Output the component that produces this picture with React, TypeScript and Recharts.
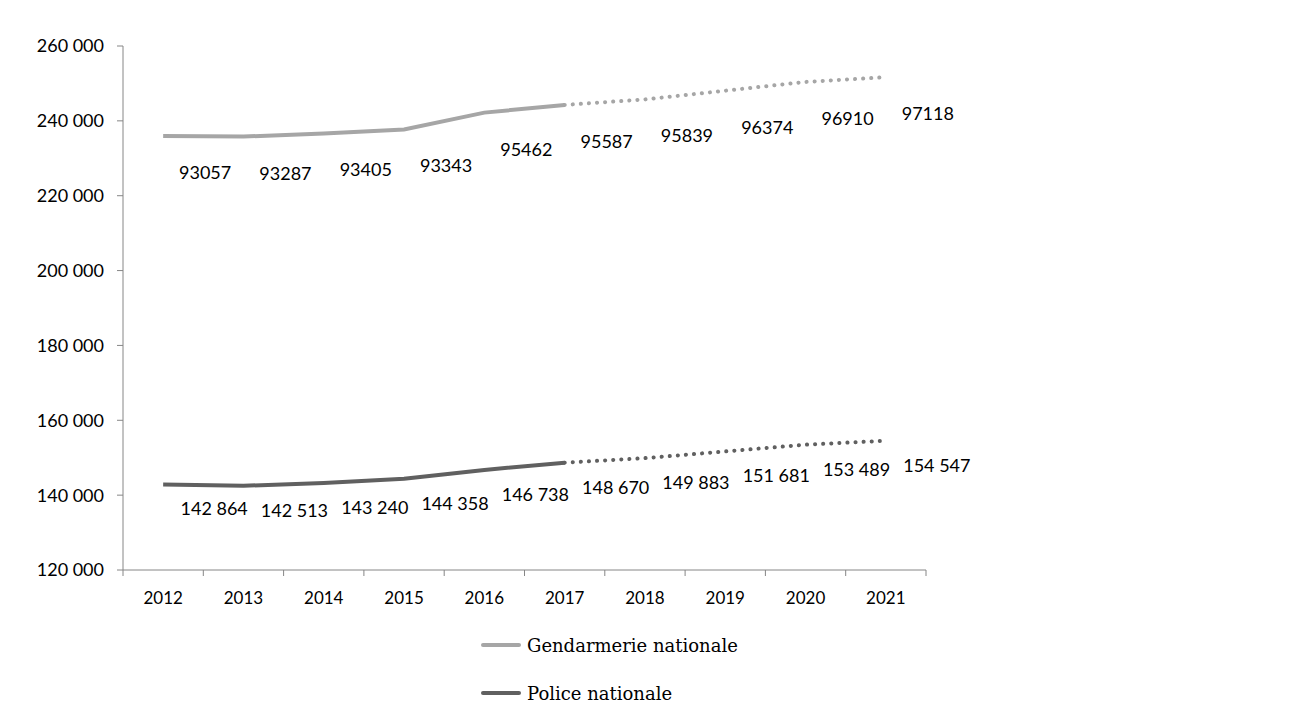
import React from "react";
import { LineChart, Line, XAxis, YAxis, Legend, LabelList } from "recharts";

const years = ["2012", "2013", "2014", "2015", "2016", "2017", "2018", "2019", "2020", "2021"];
const police = [142864, 142513, 143240, 144358, 146738, 148670, 149883, 151681, 153489, 154547];
const gendarmerie = [93057, 93287, 93405, 93343, 95462, 95587, 95839, 96374, 96910, 97118];
const lastActualIndex = 5; // 2017: solid up to here, dotted afterwards
const yTicks = [120000, 140000, 160000, 180000, 200000, 220000, 240000, 260000];

const GEND_COLOR = "#A6A6A6";
const POLICE_COLOR = "#606060";
const AXIS_COLOR = "#868686";
const SANS = "Lato, 'Noto Sans', sans-serif";
const SERIF = "'DejaVu Serif', serif";

const PLOT_LEFT = 123;
const PLOT_RIGHT = 926;
const HALF_BAND = (PLOT_RIGHT - PLOT_LEFT) / years.length / 2;
const X_TICK_MARGIN = 22;

const legendItems = [
  { name: "Gendarmerie nationale", color: GEND_COLOR },
  { name: "Police nationale", color: POLICE_COLOR },
];

const data = years.map((year, i) => {
  const total = police[i] + gendarmerie[i];
  const actual = i <= lastActualIndex;
  const forecast = i >= lastActualIndex;
  return {
    year,
    gend: gendarmerie[i],
    pol: police[i],
    gendTotal: total,
    gendSolid: actual ? total : null,
    gendDotted: forecast ? total : null,
    polSolid: actual ? police[i] : null,
    polDotted: forecast ? police[i] : null,
  };
});

const fmt = (v: number) => {
  const s = String(Math.round(v));
  return s.replace(/\B(?=(\d{3})+(?!\d))/g, " ");
};

const makeLabel = (dx: number, dy: number, spaced: boolean) => (props: any) => {
  const { x, y, value } = props;
  if (value == null || x == null || y == null) return null;
  return (
    <text
      x={x + dx}
      y={y + dy}
      textAnchor="middle"
      dominantBaseline="central"
      fontFamily={SANS}
      fontSize={18}
      fill="#000"
    >
      {spaced ? fmt(value) : String(value)}
    </text>
  );
};

const YearTick = (props: any) => {
  const { x, y, payload, index, visibleTicksCount } = props;
  const axisY = y - X_TICK_MARGIN;
  const isLast = index === visibleTicksCount - 1;
  return (
    <g>
      <line x1={x - HALF_BAND} x2={x - HALF_BAND} y1={axisY} y2={axisY + 6} stroke={AXIS_COLOR} />
      {isLast && (
        <line x1={x + HALF_BAND} x2={x + HALF_BAND} y1={axisY} y2={axisY + 6} stroke={AXIS_COLOR} />
      )}
      <text
        x={x}
        y={y}
        dy="0.71em"
        textAnchor="middle"
        fontFamily={SANS}
        fontSize={17}
        fill="#000"
      >
        {payload.value}
      </text>
    </g>
  );
};

const LegendContent = () => (
  <div style={{ height: 100, width: 1298, position: "relative" }}>
    {legendItems.map((item, i) => (
      <div
        key={item.name}
        style={{
          position: "absolute",
          left: 481,
          top: 27 + i * 48 - 12,
          height: 24,
          display: "flex",
          alignItems: "center",
          fontFamily: SERIF,
          fontSize: 18,
          color: "#000",
          whiteSpace: "nowrap",
        }}
      >
        <span
          style={{
            display: "inline-block",
            width: 40,
            height: 4,
            borderRadius: 2,
            background: item.color,
            marginRight: 6,
          }}
        />
        {item.name}
      </div>
    ))}
  </div>
);

export default function App() {
  return (
    <div style={{ position: "absolute", left: 0, top: 0, width: 1298, height: 718, background: "#fff" }}>
      <LineChart
        width={1298}
        height={718}
        data={data}
        margin={{ top: 46, right: 1298 - PLOT_RIGHT, bottom: 0, left: 0 }}
      >
        <XAxis
          dataKey="year"
          height={48}
          padding={{ left: HALF_BAND, right: HALF_BAND }}
          axisLine={{ stroke: AXIS_COLOR }}
          tickLine={false}
          tickSize={0}
          tickMargin={X_TICK_MARGIN}
          interval={0}
          tick={<YearTick />}
        />
        <YAxis
          width={PLOT_LEFT}
          domain={[120000, 260000]}
          ticks={yTicks}
          tickFormatter={fmt}
          axisLine={{ stroke: AXIS_COLOR }}
          tickLine={{ stroke: AXIS_COLOR }}
          tickSize={6}
          tickMargin={13}
          tick={{ fontFamily: SANS, fontSize: 18, fill: "#000" }}
        />
        <Legend
          layout="vertical"
          verticalAlign="bottom"
          align="center"
          height={100}
          wrapperStyle={{ left: 0, width: 1298 }}
          content={<LegendContent />}
        />
        <Line
          dataKey="gendSolid"
          stroke={GEND_COLOR}
          strokeWidth={4}
          dot={false}
          isAnimationActive={false}
          legendType="none"
        />
        <Line
          dataKey="gendDotted"
          stroke={GEND_COLOR}
          strokeWidth={4}
          strokeDasharray="0.1 8"
          strokeLinecap="round"
          dot={false}
          isAnimationActive={false}
          legendType="none"
        />
        <Line
          dataKey="polSolid"
          stroke={POLICE_COLOR}
          strokeWidth={4}
          dot={false}
          isAnimationActive={false}
          legendType="none"
        />
        <Line
          dataKey="polDotted"
          stroke={POLICE_COLOR}
          strokeWidth={4}
          strokeDasharray="0.1 8"
          strokeLinecap="round"
          dot={false}
          isAnimationActive={false}
          legendType="none"
        />
        <Line
          dataKey="gendTotal"
          stroke="none"
          dot={false}
          activeDot={false}
          isAnimationActive={false}
          legendType="none"
        >
          <LabelList dataKey="gend" content={makeLabel(42, 36, false)} />
        </Line>
        <Line
          dataKey="pol"
          stroke="none"
          dot={false}
          activeDot={false}
          isAnimationActive={false}
          legendType="none"
        >
          <LabelList dataKey="pol" content={makeLabel(51, 24, true)} />
        </Line>
      </LineChart>
    </div>
  );
}
